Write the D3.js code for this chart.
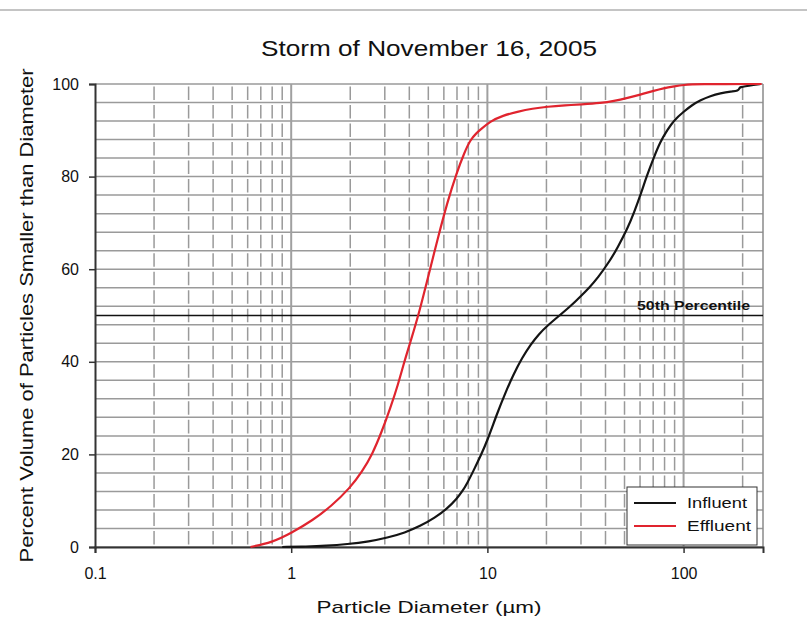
<!DOCTYPE html>
<html>
<head>
<meta charset="utf-8">
<script src="https://cdn.jsdelivr.net/npm/d3@7"></script>
<style>
  body { margin: 0; background: #fff; }
  text { font-family: "Liberation Sans", Arial, sans-serif; fill: #111; }
</style>
</head>
<body>
<svg id="chart"></svg>
<script>
// particle size (um) and cumulative percent
const influentSize = [0.9, 1.2, 1.5, 1.93, 2.5, 3.09, 3.8, 4.54, 5.4, 6.25, 7.0, 7.45, 7.9, 8.5, 9.2, 10, 11.2, 12.4, 13.6, 15, 16.6, 18.3, 20.2, 23.6, 26.5, 29.8, 33, 36.4, 42.4, 46, 51.8, 56, 60.3, 65, 70.3, 76, 82.9, 90, 100, 110, 122, 137, 154, 175, 190, 193, 195, 205, 228, 247];
const influentPct  = [0, 0.1, 0.25, 0.6, 1.2, 2.0, 3.1, 4.5, 6.3, 8.3, 10.5, 12, 13.8, 16.5, 19.5, 23, 28.8, 33.5, 37.3, 40.8, 43.7, 46, 47.8, 50.2, 52, 54.1, 56, 58, 62, 64.6, 68.8, 72.3, 76, 80.2, 84, 87.5, 90.2, 92.3, 94, 95.4, 96.5, 97.4, 98, 98.4, 98.5, 99.2, 99.3, 99.5, 99.8, 100];

const effluentSize = [0.62, 0.8, 1.0, 1.29, 1.6, 2.0, 2.3, 2.59, 2.9, 3.2, 3.5, 3.77, 4.1, 4.45, 5.0, 5.56, 6.25, 7.0, 7.6, 8.2, 8.8, 9.2, 10.3, 12, 14.2, 17, 20.2, 25, 30, 38, 44, 52, 60, 70, 79, 90, 100, 115, 250];
const effluentPct  = [0, 1, 3, 5.8, 8.8, 12.8, 16.3, 20, 25, 30, 35, 40, 45, 50, 58.5, 66.3, 74.5, 81, 85, 88, 89.4, 90.1, 91.9, 93.2, 94, 94.7, 95.1, 95.4, 95.6, 95.9, 96.3, 97, 97.7, 98.5, 99.1, 99.5, 99.8, 100, 100];

const seriesNames = ['Influent', 'Effluent'];
const xTickValues = [0.1, 1, 10, 100];
const yTickValues = [0, 20, 40, 60, 80, 100];
const percentileLine = 50;

class SizeChart {

  constructor(_config) {
    this.config = {
      parentElement: _config.parentElement,
      containerWidth: 807,
      containerHeight: 625,
      margin: {top: 84, right: 44, bottom: 78, left: 95}
    };
    this.colors = {Influent: '#141414', Effluent: '#e0242e'};
    this.initVis();
  }

  initVis() {
    let vis = this;
    vis.width = vis.config.containerWidth - vis.config.margin.left - vis.config.margin.right;
    vis.height = vis.config.containerHeight - vis.config.margin.top - vis.config.margin.bottom;

    vis.svg = d3.select(vis.config.parentElement)
        .attr('width', vis.config.containerWidth)
        .attr('height', vis.config.containerHeight);

    // thin rule across the top of the page
    vis.svg.append('line')
        .attr('x1', 0).attr('x2', vis.config.containerWidth)
        .attr('y1', 10).attr('y2', 10)
        .attr('stroke', '#c4c4c4').attr('stroke-width', 2);

    vis.chart = vis.svg.append('g')
        .attr('transform', `translate(${vis.config.margin.left},${vis.config.margin.top})`);

    vis.xScale = d3.scaleLog().domain([0.1, 254]).range([0, vis.width]);
    vis.yScale = d3.scaleLinear().domain([0, 100]).range([vis.height, 0]);

    vis.series = [
      {name: 'Influent', values: influentSize.map((s, i) => ({x: s, y: influentPct[i]}))},
      {name: 'Effluent', values: effluentSize.map((s, i) => ({x: s, y: effluentPct[i]}))}
    ];

    vis.renderVis();
  }

  renderVis() {
    let vis = this;
    const isDecade = d => Math.abs(Math.log10(d) - Math.round(Math.log10(d))) < 1e-9;

    // horizontal grid, every 4 %
    vis.chart.append('g').selectAll('line')
        .data(d3.range(0, 101, 4))
      .join('line')
        .attr('x1', 0).attr('x2', vis.width)
        .attr('y1', d => vis.yScale(d)).attr('y2', d => vis.yScale(d))
        .attr('stroke', '#9a9a9a').attr('stroke-width', 1.5);

    // vertical grid: dashed minor, solid decades
    const step = vis.yScale(0) - vis.yScale(4);
    vis.chart.append('g').selectAll('line')
        .data(vis.xScale.ticks().filter(d => !isDecade(d)))
      .join('line')
        .attr('x1', d => vis.xScale(d)).attr('x2', d => vis.xScale(d))
        .attr('y1', vis.height).attr('y2', 0)
        .attr('stroke', '#9a9a9a').attr('stroke-width', 1.5)
        .attr('stroke-dasharray', `${step - 5},5`)
        .attr('stroke-dashoffset', -2.5);

    vis.chart.append('g').selectAll('line')
        .data(xTickValues.slice(1))
      .join('line')
        .attr('x1', d => vis.xScale(d)).attr('x2', d => vis.xScale(d))
        .attr('y1', vis.height).attr('y2', 0)
        .attr('stroke', '#a0a0a0').attr('stroke-width', 2);

    // right border
    vis.chart.append('line')
        .attr('x1', vis.width).attr('x2', vis.width)
        .attr('y1', 0).attr('y2', vis.height)
        .attr('stroke', '#8a8a8a').attr('stroke-width', 1.5);

    // 50th percentile line
    vis.chart.append('line')
        .attr('x1', 0).attr('x2', vis.width)
        .attr('y1', vis.yScale(percentileLine)).attr('y2', vis.yScale(percentileLine))
        .attr('stroke', '#111').attr('stroke-width', 1.5);
    vis.chart.append('text')
        .attr('x', vis.width - 13)
        .attr('y', vis.yScale(percentileLine) - 6)
        .attr('text-anchor', 'end')
        .attr('font-size', 12).attr('font-weight', 'bold')
        .attr('textLength', 113).attr('lengthAdjust', 'spacingAndGlyphs')
        .text('50th Percentile');

    // axes
    const yAxis = d3.axisLeft(vis.yScale).tickValues(yTickValues).tickSize(6).tickPadding(10);
    const xAxis = d3.axisBottom(vis.xScale).tickValues(xTickValues).tickSize(6).tickPadding(15)
        .tickFormat(d3.format('~g'));

    vis.yAxisG = vis.chart.append('g').call(yAxis);
    vis.xAxisG = vis.chart.append('g').attr('transform', `translate(0,${vis.height})`).call(xAxis);

    [vis.yAxisG, vis.xAxisG].forEach(g => {
      g.select('.domain').attr('stroke', '#333').attr('stroke-width', 2);
      g.selectAll('.tick line').attr('stroke', '#333').attr('stroke-width', 1.5);
      g.selectAll('.tick text')
          .attr('font-family', '"Liberation Sans", Arial, sans-serif')
          .attr('font-size', 16).attr('fill', '#222');
    });

    // curves
    const line = d3.line()
        .x(d => vis.xScale(d.x))
        .y(d => vis.yScale(d.y))
        .curve(d3.curveBasis);

    vis.chart.selectAll('.series')
        .data(vis.series)
      .join('path')
        .attr('class', 'series')
        .attr('d', d => line(d.values))
        .attr('fill', 'none')
        .attr('stroke', d => vis.colors[d.name])
        .attr('stroke-width', 2.2)
        .attr('stroke-linejoin', 'round');

    // legend
    const legend = vis.svg.append('g').attr('transform', 'translate(627,487)');
    legend.append('rect')
        .attr('width', 130).attr('height', 58)
        .attr('fill', '#fff').attr('stroke', '#333').attr('stroke-width', 1);
    const item = legend.selectAll('.item')
        .data(seriesNames)
      .join('g')
        .attr('class', 'item')
        .attr('transform', (d, i) => `translate(0,${16 + i * 23})`);
    item.append('line')
        .attr('x1', 7).attr('x2', 49)
        .attr('stroke', d => vis.colors[d]).attr('stroke-width', 2);
    item.append('text')
        .attr('x', 60).attr('y', 5)
        .attr('font-size', 15)
        .attr('textLength', (d, i) => i === 0 ? 60 : 64)
        .attr('lengthAdjust', 'spacingAndGlyphs')
        .text(d => d);

    // titles
    vis.svg.append('text')
        .attr('x', vis.config.margin.left + vis.width / 2)
        .attr('y', 56)
        .attr('text-anchor', 'middle')
        .attr('font-size', 22)
        .attr('textLength', 336).attr('lengthAdjust', 'spacingAndGlyphs')
        .text('Storm of November 16, 2005');

    vis.svg.append('text')
        .attr('x', vis.config.margin.left + vis.width / 2)
        .attr('y', 613)
        .attr('text-anchor', 'middle')
        .attr('font-size', 17)
        .attr('textLength', 225).attr('lengthAdjust', 'spacingAndGlyphs')
        .text('Particle Diameter (\u00b5m)');

    vis.svg.append('text')
        .attr('transform', `translate(33,${vis.config.margin.top + vis.height / 2}) rotate(-90)`)
        .attr('text-anchor', 'middle')
        .attr('font-size', 18)
        .attr('textLength', 494).attr('lengthAdjust', 'spacingAndGlyphs')
        .text('Percent Volume of Particles Smaller than Diameter');
  }
}

new SizeChart({parentElement: '#chart'});
</script>
</body>
</html>
